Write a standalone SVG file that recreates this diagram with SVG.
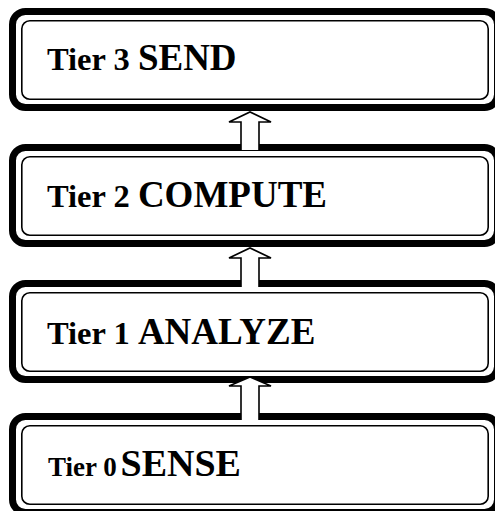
<svg xmlns="http://www.w3.org/2000/svg" width="495" height="511" viewBox="0 0 495 511">
<style>
.outer{fill:#fff;stroke:#000;stroke-width:7}
.inner{fill:none;stroke:#000;stroke-width:1.6}
.arrow{fill:#fff;stroke:#000;stroke-width:1.6;stroke-linejoin:miter}
text{font-family:"Liberation Serif","Times New Roman",serif;font-weight:bold;fill:#000}
.sm{font-size:32.5px}
.lg{font-size:37px}
</style>
<rect width="495" height="511" fill="#fff"/>
<g id="tier3">
<rect class="outer" x="12.5" y="11.5" width="485" height="96" rx="13"/>
<rect class="inner" x="21.8" y="20.8" width="466.4" height="78.4" rx="8"/>
<text x="47" y="70"><tspan class="sm">Tier 3 </tspan><tspan class="lg">SEND</tspan></text>
</g>
<g id="tier2">
<rect class="outer" x="12.5" y="147.5" width="485" height="96" rx="13"/>
<rect class="inner" x="21.8" y="156.8" width="466.4" height="78.4" rx="8"/>
<text x="47" y="207"><tspan class="sm">Tier 2 </tspan><tspan class="lg">COMPUTE</tspan></text>
</g>
<g id="tier1">
<rect class="outer" x="12.5" y="283.5" width="485" height="96" rx="13"/>
<rect class="inner" x="21.8" y="292.8" width="466.4" height="78.4" rx="8"/>
<text x="47" y="344"><tspan class="sm">Tier 1 </tspan><tspan class="lg">ANALYZE</tspan></text>
</g>
<g id="tier0">
<rect class="outer" x="12.5" y="416.5" width="485" height="96" rx="13"/>
<rect class="inner" x="21.8" y="425.8" width="466.4" height="78.4" rx="8"/>
<text x="48" y="476"><tspan style="font-size:27px">Tier 0 </tspan><tspan dx="-3" style="font-size:38px">SENSE</tspan></text>
</g>
<g id="connectors">
<path class="arrow" d="M241,150 L241,122 L229,122 L250,112 L271,122 L259,122 L259,150"/>
<path class="arrow" d="M241,287 L241,258 L229,258 L250,248 L271,258 L259,258 L259,287"/>
<path class="arrow" d="M241,420 L241,386 L229,386 L250,377 L271,386 L259,386 L259,420"/>
</g>
</svg>
